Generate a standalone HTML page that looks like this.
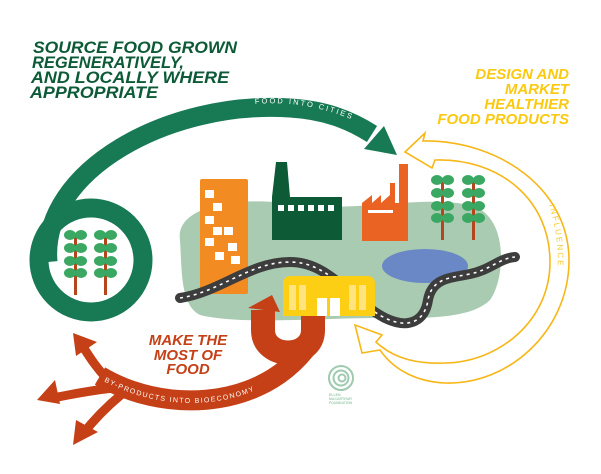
<!DOCTYPE html>
<html><head><meta charset="utf-8"><style>
html,body{margin:0;padding:0;background:#fff;}
svg{display:block;}
text{font-family:"Liberation Sans",sans-serif;}
.h{font-weight:bold;font-style:italic;}
</style></head><body>
<svg width="601" height="474" viewBox="0 0 601 474" xmlns="http://www.w3.org/2000/svg">
<defs>
<path id="gArc" d="M 255 104 C 300 100, 340 112, 375 130"/>
<path id="rBand" d="M 100 376 C 160 412, 255 412, 305 350"/>
<path id="yArc" d="M 549 205 C 560 240, 560 270, 553 305"/>
</defs>
<!-- green blob -->
<path d="M 180 240 C 175 205, 240 195, 300 205 C 360 212, 420 195, 470 205 C 510 215, 505 280, 490 300 C 470 320, 420 318, 380 318 C 320 318, 240 325, 200 315 C 180 305, 182 270, 180 240 Z" fill="#a9cbb1"/>
<ellipse cx="425" cy="266" rx="43" ry="17" fill="#6a87c6"/>
<rect x="200" y="179" width="48" height="115" rx="2" fill="#f28c22"/>
<g fill="#fff">
<rect x="205" y="190" width="9" height="8"/><rect x="213" y="203" width="9" height="8"/><rect x="205" y="216" width="9" height="8"/><rect x="213" y="227" width="9" height="8"/><rect x="224" y="227" width="9" height="8"/><rect x="205" y="238" width="9" height="8"/><rect x="228" y="243" width="9" height="8"/><rect x="215" y="252" width="9" height="8"/><rect x="231" y="256" width="9" height="8"/>
</g>
<path d="M 272 240 L 272 197 L 276 162 L 287 162 L 290 197 L 342 197 L 342 240 Z" fill="#0d5a37"/>
<g fill="#fff"><rect x="278" y="205" width="6" height="6"/><rect x="288" y="205" width="6" height="6"/><rect x="298" y="205" width="6" height="6"/><rect x="308" y="205" width="6" height="6"/><rect x="318" y="205" width="6" height="6"/><rect x="328" y="205" width="6" height="6"/></g>
<path d="M 362 241 L 362 203 L 372 195 L 372 203 L 381 195 L 381 203 L 390 195 L 390 183 L 395 183 L 395 203 L 399 203 L 399 164 L 408 164 L 408 241 Z" fill="#ea6323"/>
<rect x="368" y="210" width="25" height="3" fill="#fff"/>
<g id="tree">
<rect x="441" y="180" width="3" height="60" fill="#b5451c"/>
<g fill="#3aa863">
<ellipse cx="437" cy="180" rx="6" ry="5"/><ellipse cx="448" cy="180" rx="6" ry="5"/>
<ellipse cx="437" cy="193" rx="6" ry="5"/><ellipse cx="448" cy="193" rx="6" ry="5"/>
<ellipse cx="437" cy="206" rx="6" ry="5"/><ellipse cx="448" cy="206" rx="6" ry="5"/>
<ellipse cx="437" cy="218" rx="6" ry="5"/><ellipse cx="448" cy="218" rx="6" ry="5"/>
</g></g>
<use href="#tree" x="31"/>
<use href="#tree" x="-367" y="55"/>
<use href="#tree" x="-337" y="55"/>
<path d="M 180 298 C 220 292, 250 262, 290 262 C 330 262, 350 300, 385 318 C 410 330, 425 320, 428 300 C 432 278, 450 278, 470 274 C 490 270, 500 258, 515 257" fill="none" stroke="#3d3d3d" stroke-width="10" stroke-linecap="round"/>
<path d="M 180 298 C 220 292, 250 262, 290 262 C 330 262, 350 300, 385 318 C 410 330, 425 320, 428 300 C 432 278, 450 278, 470 274 C 490 270, 500 258, 515 257" fill="none" stroke="#fff" stroke-width="1.6" stroke-dasharray="3 4"/>
<path d="M 283 316 L 283 284 Q 283 276 291 276 L 367 276 Q 375 276 375 284 L 375 316 Z" fill="#fdcf14"/>
<g fill="#fee37f"><rect x="289" y="285" width="7" height="25"/><rect x="299" y="285" width="7" height="25"/><rect x="349" y="285" width="7" height="25"/><rect x="359" y="285" width="7" height="25"/></g>
<g fill="#fff"><rect x="317" y="298" width="10" height="18"/><rect x="330" y="298" width="10" height="18"/></g>
<circle cx="91" cy="260" r="52" fill="none" stroke="#177a55" stroke-width="19"/>
<path d="M 48 262 C 40 170, 170 100, 290 108 C 325 110, 350 120, 372 134" fill="none" stroke="#177a55" stroke-width="19"/>
<polygon points="384,126 397,155 364,149" fill="#177a55"/>
<text font-size="7.5" fill="#fff" letter-spacing="2"><textPath href="#gArc">FOOD INTO CITIES</textPath></text>
<!-- red arrows -->
<path d="M 313 316 L 313 330 C 313 360, 263 360, 263 330 L 263 310" fill="none" stroke="#c54016" stroke-width="24"/>
<polygon points="248,308 272,295 280,312" fill="#c54016"/>
<use href="#rBand" fill="none" stroke="#c54016" stroke-width="20"/>
<path d="M 110 382 C 98 370, 90 358, 82 345" fill="none" stroke="#c54016" stroke-width="9"/>
<path d="M 115 388 C 90 390, 70 395, 52 398" fill="none" stroke="#c54016" stroke-width="9"/>
<path d="M 122 394 C 105 408, 92 422, 82 435" fill="none" stroke="#c54016" stroke-width="9"/>
<polygon points="73,333 97,342 76,356" fill="#c54016"/>
<polygon points="37,400 55,380 60,404" fill="#c54016"/>
<polygon points="73,445 76,420 98,432" fill="#c54016"/>
<text font-size="7" fill="#fff" letter-spacing="1.3" dy="2.5"><textPath href="#rBand" startOffset="6">BY-PRODUCTS INTO BIOECONOMY</textPath></text>
<!-- yellow outline arrow -->
<path d="M 405 152 L 425 133 L 423 141 C 500 140, 570 190, 569 262 C 568 330, 510 385, 445 383 C 420 382, 395 372, 380 350 L 362 353 L 355 325 L 382 335 L 376 342 C 395 360, 420 364, 445 363 C 500 362, 550 320, 550 262 C 550 200, 500 158, 435 160 L 432 168 Z" fill="none" stroke="#f7b718" stroke-width="1.6"/>
<text font-size="8" fill="#f9c92a" letter-spacing="2"><textPath href="#yArc">INFLUENCE</textPath></text>
<g class="h" fill="#0d5a37" font-size="16.5">
<text x="33" y="53" textLength="204" lengthAdjust="spacingAndGlyphs">SOURCE FOOD GROWN</text>
<text x="32" y="68" textLength="152" lengthAdjust="spacingAndGlyphs">REGENERATIVELY,</text>
<text x="31" y="83" textLength="198" lengthAdjust="spacingAndGlyphs">AND LOCALLY WHERE</text>
<text x="30" y="98" textLength="128" lengthAdjust="spacingAndGlyphs">APPROPRIATE</text>
</g>
<g class="h" fill="#fbc90f" font-size="15" text-anchor="end">
<text x="569" y="79">DESIGN AND</text>
<text x="569" y="94">MARKET</text>
<text x="569" y="109">HEALTHIER</text>
<text x="569" y="124">FOOD PRODUCTS</text>
</g>
<g class="h" fill="#c54016" font-size="15" text-anchor="middle">
<text x="188" y="345">MAKE THE</text>
<text x="188" y="360">MOST OF</text>
<text x="188" y="374">FOOD</text>
</g>
<g fill="none" stroke="#9fcab0" stroke-width="2"><circle cx="341" cy="378" r="12"/><circle cx="341" cy="378" r="7.5"/><circle cx="342" cy="378" r="3.5"/></g>
<g fill="#9fcab0" font-size="3.5" font-weight="bold"><text x="329" y="396">ELLEN</text><text x="329" y="400">MACARTHUR</text><text x="329" y="404">FOUNDATION</text></g>
</svg>
</body></html>
